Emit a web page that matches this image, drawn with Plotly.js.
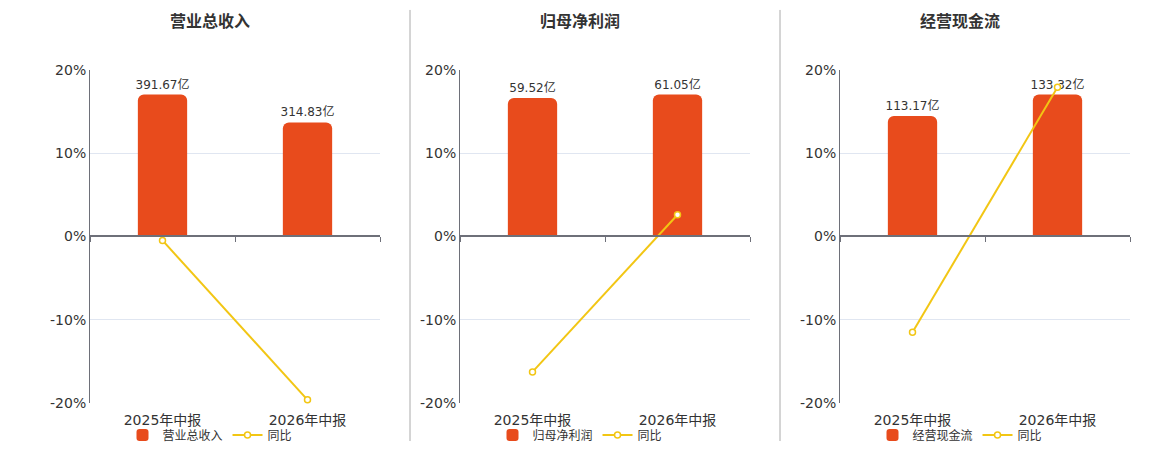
<!DOCTYPE html>
<html>
<head>
<meta charset="utf-8">
<script src="https://cdn.plot.ly/plotly-3.0.1.min.js"></script>
<style>html,body{margin:0;padding:0;background:#fff;}#chart{width:1160px;height:450px;}</style>
</head>
<body>
<div id="chart"></div>
<script>
// ---- data ----
var categories = ['2025年中报', '2026年中报'];
var panelTitles = ['营业总收入', '归母净利润', '经营现金流'];
var revenue = [391.67, 314.83];
var revenueYoY = [-0.48, -19.6];
var netProfit = [59.52, 61.05];
var netProfitYoY = [-16.25, 2.6];
var cashFlow = [113.17, 133.32];
var cashFlowYoY = [-11.5, 17.9];
var yoyName = '同比';
var unit = '亿';
var yTickVals = [-20, -10, 0, 10, 20];
var yTickText = ['-20%', '-10%', '0%', '10%', '20%'];

// ---- styling ----
var W = 1160, H = 450;
var FONT = 'DejaVu Sans, Noto Sans CJK SC, sans-serif';
var BAR_COLOR = '#E84B1C';
var LINE_COLOR = '#F2C614';
var AXIS_COLOR = '#6E7079';
var GRID_COLOR = '#E0E6F1';
var TEXT_COLOR = '#333333';

var panels = [
  {values: revenue, yoy: revenueYoY, title: panelTitles[0], x0: 90, x1: 380, cx: 210},
  {values: netProfit, yoy: netProfitYoY, title: panelTitles[1], x0: 460, x1: 750, cx: 580},
  {values: cashFlow, yoy: cashFlowYoY, title: panelTitles[2], x0: 840, x1: 1130, cx: 960}
];

var yTop = 70, yBot = 405;
var yDom = [1 - yBot / H, 1 - yTop / H];
var yMid = (yDom[0] + yDom[1]) / 2;

var traces = [];
var layout = {
  width: W, height: H,
  margin: {l: 0, r: 0, t: 0, b: 0},
  paper_bgcolor: '#fff', plot_bgcolor: 'rgba(0,0,0,0)',
  font: {family: FONT, color: TEXT_COLOR, size: 12},
  annotations: [],
  shapes: [],
  barmode: 'group'
};

panels.forEach(function (p, i) {
  var bx = 'x' + (i ? i + 1 : ''), by = 'y' + (i ? i + 1 : '');
  var lx = 'x' + (i + 4), ly = 'y' + (i + 4);
  var lg = 'legend' + (i ? i + 1 : '');
  var xDom = [p.x0 / W, p.x1 / W];
  var M = Math.max.apply(null, p.values) / 0.851;

  traces.push({
    type: 'bar', x: categories, y: p.values, xaxis: bx, yaxis: by,
    name: p.title, legend: lg, width: 0.34,
    marker: {color: BAR_COLOR, cornerradius: 6},
    text: p.values.map(function (v) { return v.toFixed(2) + unit; }),
    textposition: 'outside', cliponaxis: false, constraintext: 'none',
    textfont: {size: 12, color: TEXT_COLOR, family: FONT},
    hoverinfo: 'skip'
  });
  traces.push({
    type: 'scatter', mode: 'lines+markers', x: categories, y: p.yoy,
    xaxis: lx, yaxis: ly, name: yoyName, legend: lg, cliponaxis: false,
    line: {color: LINE_COLOR, width: 2},
    marker: {symbol: 'circle', size: 6, color: '#fff', line: {color: LINE_COLOR, width: 1.5}},
    hoverinfo: 'skip'
  });

  layout['xaxis' + (i ? i + 1 : '')] = {
    domain: xDom, anchor: by, type: 'category', range: [-0.5, 1.5],
    showline: false, showgrid: false, zeroline: false, ticks: '', ticklabelstandoff: 7,
    tickfont: {size: 14, color: TEXT_COLOR, family: FONT}, fixedrange: true
  };
  layout['yaxis' + (i ? i + 1 : '')] = {
    domain: yDom, anchor: bx, range: [-M, M], visible: false, fixedrange: true
  };
  layout['xaxis' + (i + 4)] = {
    overlaying: bx, anchor: 'free', position: yMid, type: 'category', range: [-0.5, 1.5],
    showline: true, linecolor: AXIS_COLOR, linewidth: 2,
    ticks: 'outside', tickson: 'boundaries', ticklen: 5, tickcolor: AXIS_COLOR, tickwidth: 1,
    showticklabels: false, showgrid: false, zeroline: false, fixedrange: true
  };
  layout['yaxis' + (i + 4)] = {
    overlaying: by, anchor: bx, side: 'left', range: [-20, 20],
    tickmode: 'array', tickvals: yTickVals, ticktext: yTickText,
    showline: true, linecolor: AXIS_COLOR, linewidth: 1,
    showgrid: true, gridcolor: GRID_COLOR, gridwidth: 1, zeroline: false, ticks: '',
    tickfont: {size: 14, color: TEXT_COLOR, family: FONT}, fixedrange: true
  };
  layout[lg] = {
    orientation: 'h', x: p.cx / W, xanchor: 'center', y: 1 - 437 / H, yanchor: 'middle',
    font: {size: 12, color: TEXT_COLOR, family: FONT}, bgcolor: 'rgba(0,0,0,0)',
    itemwidth: 30, tracegroupgap: 0
  };
  layout.annotations.push({
    text: '<b>' + p.title + '</b>', xref: 'paper', yref: 'paper',
    x: p.cx / W, y: 1 - 22 / H, xanchor: 'center', yanchor: 'middle',
    showarrow: false, font: {size: 16, color: TEXT_COLOR, family: FONT}
  });
});

[410, 780].forEach(function (sx) {
  layout.shapes.push({
    type: 'line', xref: 'paper', yref: 'paper',
    x0: sx / W, x1: sx / W, y0: 1 - 10 / H, y1: 1 - 443 / H,
    line: {color: '#AAAAAA', width: 1}
  });
});

Plotly.newPlot('chart', traces, layout, {displayModeBar: false, staticPlot: true});
</script>
</body>
</html>
